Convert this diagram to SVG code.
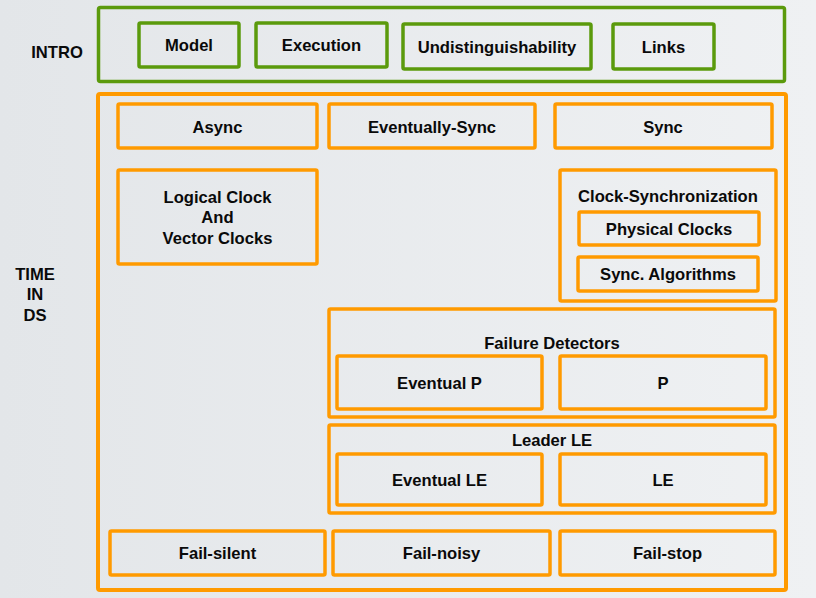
<svg xmlns="http://www.w3.org/2000/svg" width="816" height="598" viewBox="0 0 816 598">
<defs>
<linearGradient id="bg" x1="0" y1="0" x2="1" y2="0">
<stop offset="0" stop-color="#e3e6e9"/>
<stop offset="1" stop-color="#eff1f3"/>
</linearGradient>
<style>
.g{fill:none;stroke:#5b9a0c;stroke-width:3.5}
.o{fill:none;stroke:#ff9a00;stroke-width:3.5}
.ob{fill:none;stroke:#ff9a00;stroke-width:4}
text{font-family:"Liberation Sans",Arial,sans-serif;font-weight:bold;font-size:16.6px;fill:#0a0a0a;text-anchor:middle}
</style>
</defs>
<rect width="816" height="598" fill="url(#bg)"/>
<g id="labels">
<text x="57" y="58">INTRO</text>
<text x="35" y="280">TIME</text>
<text x="35" y="300">IN</text>
<text x="35" y="321">DS</text>
</g>
<g id="intro">
<rect class="g" x="98.5" y="7.5" width="686" height="74" rx="2"/>
<g id="model"><rect class="g" x="139" y="23" width="100" height="44" rx="1.5"/><text x="189" y="51">Model</text></g>
<g id="execution"><rect class="g" x="256" y="23" width="131" height="44" rx="1.5"/><text x="321.5" y="51">Execution</text></g>
<g id="undist"><rect class="g" x="403" y="24" width="188" height="45" rx="1.5"/><text x="497" y="53">Undistinguishability</text></g>
<g id="links"><rect class="g" x="613" y="24" width="101" height="45" rx="1.5"/><text x="663.5" y="53">Links</text></g>
</g>
<g id="time">
<rect class="ob" x="98" y="94" width="688" height="496" rx="2"/>
<g id="async"><rect class="o" x="118" y="104" width="199" height="44" rx="1.5"/><text x="217.5" y="133">Async</text></g>
<g id="evsync"><rect class="o" x="329" y="104" width="206" height="44" rx="1.5"/><text x="432" y="133">Eventually-Sync</text></g>
<g id="sync"><rect class="o" x="555" y="104" width="217" height="44" rx="1.5"/><text x="663" y="133">Sync</text></g>
<g id="logical"><rect class="o" x="118" y="170" width="199" height="94" rx="1.5"/>
<text x="217.5" y="203">Logical Clock</text><text x="217.5" y="223">And</text><text x="217.5" y="244">Vector Clocks</text></g>
<g id="clocksync"><rect class="o" x="560" y="170" width="216" height="131" rx="1.5"/><text x="668" y="202">Clock-Synchronization</text>
<g id="physical"><rect class="o" x="579" y="212" width="180" height="33" rx="1.5"/><text x="669" y="235">Physical Clocks</text></g>
<g id="syncalg"><rect class="o" x="578" y="257" width="180" height="34" rx="1.5"/><text x="668" y="280">Sync. Algorithms</text></g>
</g>
<g id="fd"><rect class="o" x="329" y="309" width="446" height="108" rx="1.5"/><text x="552" y="349">Failure Detectors</text>
<g id="evp"><rect class="o" x="337" y="356" width="205" height="53" rx="1.5"/><text x="439.5" y="389">Eventual P</text></g>
<g id="p"><rect class="o" x="560" y="356" width="206" height="53" rx="1.5"/><text x="663" y="389">P</text></g>
</g>
<g id="leader"><rect class="o" x="329" y="425" width="446" height="88" rx="1.5"/><text x="552" y="446">Leader LE</text>
<g id="evle"><rect class="o" x="337" y="454" width="205" height="51" rx="1.5"/><text x="439.5" y="486">Eventual LE</text></g>
<g id="le"><rect class="o" x="560" y="454" width="206" height="51" rx="1.5"/><text x="663" y="486">LE</text></g>
</g>
<g id="failsilent"><rect class="o" x="110" y="531" width="215" height="44" rx="1.5"/><text x="217.5" y="559">Fail-silent</text></g>
<g id="failnoisy"><rect class="o" x="333" y="531" width="217" height="44" rx="1.5"/><text x="441.5" y="559">Fail-noisy</text></g>
<g id="failstop"><rect class="o" x="560" y="531" width="215" height="44" rx="1.5"/><text x="667.5" y="559">Fail-stop</text></g>
</g>
<g id="connectors"/>
</svg>
